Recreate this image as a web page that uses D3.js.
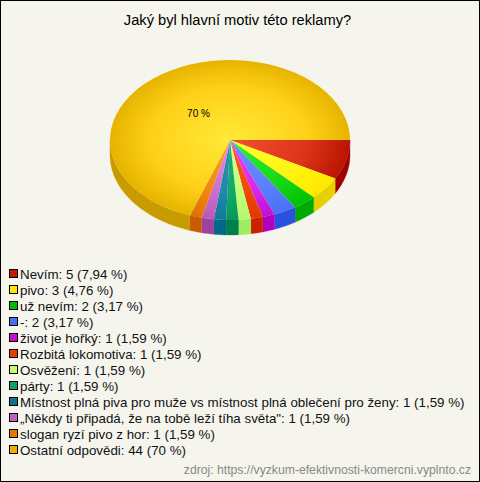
<!DOCTYPE html>
<html><head><meta charset="utf-8">
<script src="https://cdn.jsdelivr.net/npm/d3@7/dist/d3.min.js"></script>
<style>html,body{margin:0;padding:0;background:#f5f5ee}svg{display:block}text{font-family:"Liberation Sans",Arial,sans-serif}</style>
</head><body><svg id="c" width="480" height="482"></svg>
<script>
const title = "Jaký byl hlavní motiv této reklamy?";
const source = "zdroj: https://vyzkum-efektivnosti-komercni.vyplnto.cz";
const categories = ["Nevím","pivo","už nevím","-","život je hořký","Rozbitá lokomotiva","Osvěžení","párty","Místnost plná piva pro muže vs místnost plná oblečení pro ženy","„Někdy ti připadá, že na tobě leží tíha světa\"","slogan ryzí pivo z hor","Ostatní odpovědi"];
const counts = [5,3,2,2,1,1,1,1,1,1,1,44];
const percents = ["7,94","4,76","3,17","3,17","1,59","1,59","1,59","1,59","1,59","1,59","1,59","70"];
const sliceDegrees = [28.8,17,11.3,11.1,5.9,5.9,5.9,5.9,5.9,5.9,5.9,250.4];
const legendColors = ["#c41a00","#ffe600","#00bb00","#4a6ef0","#c010c8","#e83c00","#c8f870","#10a060","#107090","#c060c0","#e87800","#e8b000"];
const sideColors = ["#a00000","#e6d000","#00aa00","#2a50e0","#b000c0","#cc2000","#a0ee60","#008048","#006888","#a040a0","#c85c00","#c89c00"];
const innerColors = ["#f25030","#ffff30","#30f030","#6a90ff","#f040ff","#ff5a20","#d8ff90","#20b070","#3090b0","#e090e8","#ffa020","#ffea38"];
const midColors = ["#dc3418","#fff410","#18d818","#5a80ff","#d828e8","#f04808","#c0ff78","#10a868","#2088a8","#c870d0","#f08810","#ffd018"];
const outerColors = ["#b81400","#ffe800","#00c000","#4a70f8","#c010d0","#e03800","#b8f870","#089858","#107898","#b858b8","#e07000","#e6b400"];

const cx = 230, cy = 140, rx = 120, ry = 80, depth = 15;
const svg = d3.select("#c");
svg.append("rect").attr("width",480).attr("height",482).attr("fill","#f5f5ee");
svg.append("rect").attr("x",0.5).attr("y",0.5).attr("width",479).attr("height",481).attr("fill","none").attr("stroke","#000");

const pie = d3.pie().sort(null).startAngle(Math.PI/2).endAngle(Math.PI*2.5);
const arcs = pie(sliceDegrees);
const defs = svg.append("defs");
arcs.forEach((a,i)=>{
  const g = defs.append("radialGradient").attr("id","g"+i).attr("gradientUnits","userSpaceOnUse")
    .attr("cx",0).attr("cy",0).attr("r",rx);
  g.append("stop").attr("offset","0").attr("stop-color",innerColors[i]);
  g.append("stop").attr("offset","0.66").attr("stop-color",midColors[i]);
  g.append("stop").attr("offset","1").attr("stop-color",outerColors[i]);
});
const px = t => cx + rx*Math.sin(t), py = t => cy - ry*Math.cos(t);
const rim = svg.append("g");
arcs.forEach((a,i)=>{
  const lo = Math.max(a.startAngle, Math.PI/2), hi = Math.min(a.endAngle, Math.PI*1.5);
  if(hi<=lo) return;
  const ts = d3.range(0,41).map(k=>lo+(hi-lo)*k/40);
  const area = d3.area().x(t=>px(t)).y0(t=>py(t)).y1(t=>py(t)+depth);
  rim.append("path").attr("d",area(ts)).attr("fill",sideColors[i]).attr("stroke",sideColors[i]).attr("stroke-width",0.3);
});
const arcGen = d3.arc().innerRadius(0).outerRadius(rx);
svg.append("g").attr("transform",`translate(${cx},${cy}) scale(1,${ry/rx})`)
  .selectAll("path").data(arcs).join("path")
  .attr("d",arcGen).attr("fill",(d,i)=>`url(#g${i})`);
svg.append("text").attr("x",198.5).attr("y",117).attr("text-anchor","middle").attr("font-size",10).attr("fill","#000").text(percents[11]+" %");
svg.append("text").attr("x",237.5).attr("y",25).attr("text-anchor","middle").attr("font-size",14.67).attr("fill","#000").text(title);
const yL = d3.scalePoint().domain(d3.range(categories.length)).range([274,450]);
const lg = svg.append("g").selectAll("g").data(categories).join("g").attr("transform",(d,i)=>`translate(0,${yL(i)})`);
lg.append("rect").attr("x",9.5).attr("y",-4.5).attr("width",8).attr("height",8).attr("fill",(d,i)=>legendColors[i]).attr("stroke","#000");
lg.append("text").attr("x",20).attr("y",4.5).attr("font-size",13.33).attr("fill","#111").text((d,i)=>`${d}: ${counts[i]} (${percents[i]} %)`);
svg.append("text").attr("x",471).attr("y",474).attr("text-anchor","end").attr("font-size",12.2).attr("fill","#888").text(source);
</script></body></html>
